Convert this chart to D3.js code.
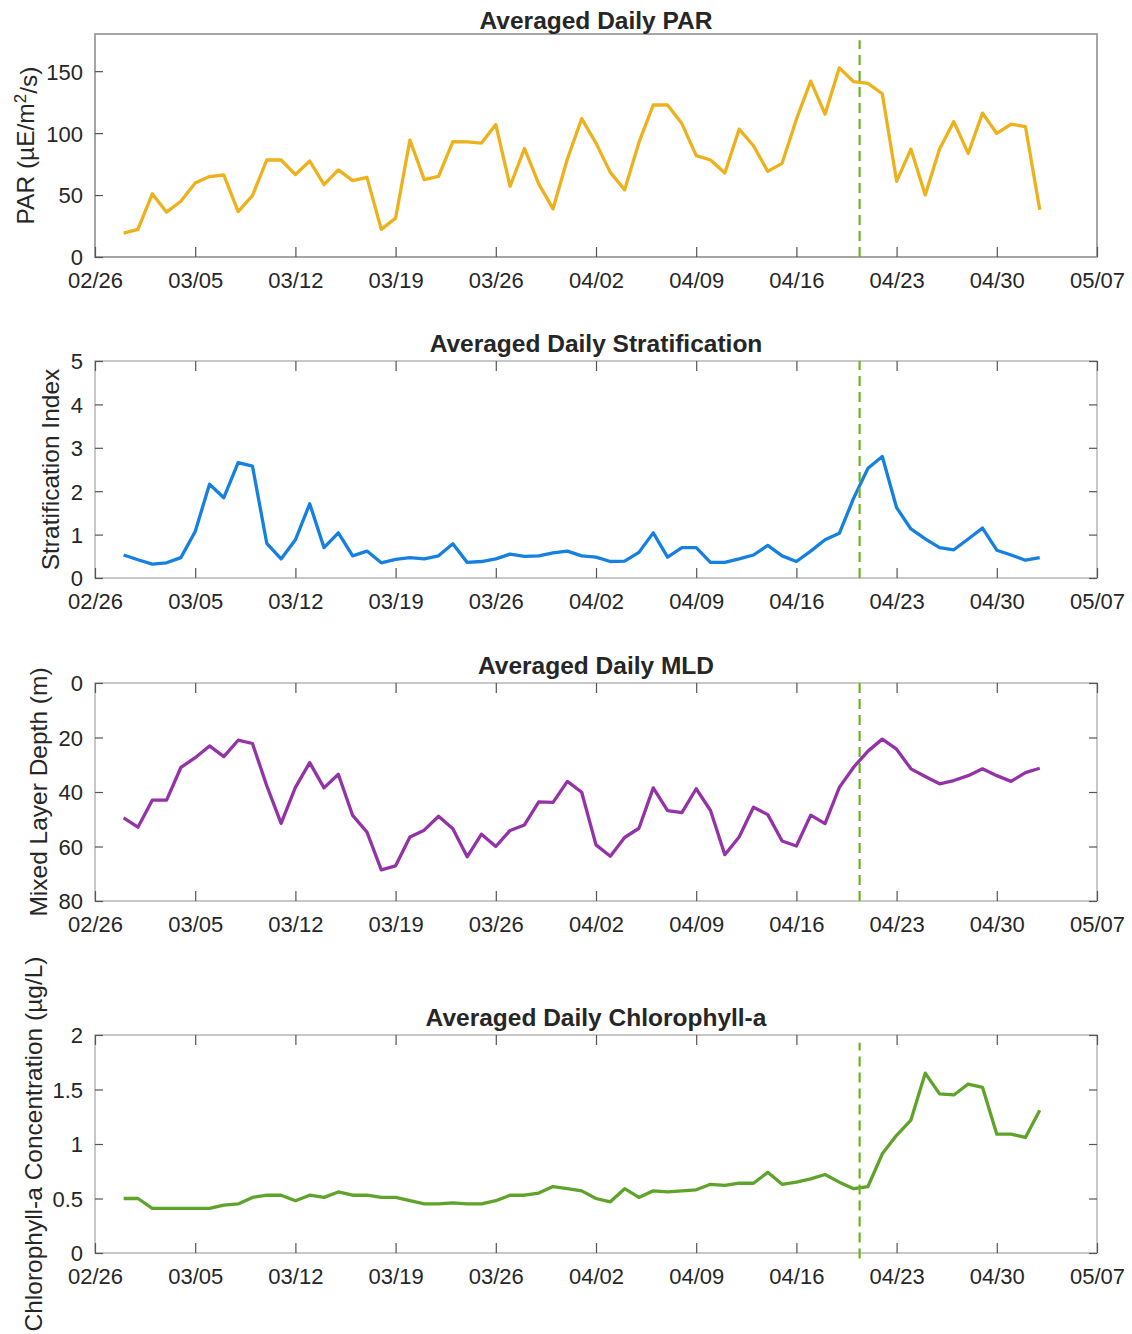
<!DOCTYPE html>
<html>
<head>
<meta charset="utf-8">
<script src="https://cdn.jsdelivr.net/npm/d3@7"></script>
<style>
  html, body { margin: 0; padding: 0; background: #fff; }
  svg { display: block; }
  text { font-family: "Liberation Sans", Arial, Helvetica, sans-serif; fill: #262626; }
</style>
</head>
<body>
<svg id="chart" width="1132" height="1334"></svg>
<script>
// ---------- data ----------
const year = 2021;
const xTickLabels = ["02/26","03/05","03/12","03/19","03/26","04/02","04/09","04/16","04/23","04/30","05/07"];
const firstDataDay = "02/28";
const eventDay = "04/20";
const eventHourOffset = 10; // dashed marker sits slightly after midnight

const parValues = [19.3,22.3,51,36.2,45,59.8,64.9,66.2,36.7,49.6,78.3,78.3,66.5,77.5,58.4,70.3,61.7,64.3,22.3,31.4,
  94.4,62.5,65.1,93.2,92.9,92,106.9,57.1,87.6,59,38.9,79.1,111.7,91.9,68.3,54.2,92.5,122.7,122.7,107.7,
  81.8,78.3,67.8,103.2,89.8,69.1,75.6,111.2,142,115.3,152.7,141.5,140.2,131.8,61.1,87.1,50.1,87.1,109.3,83.6,
  116.1,99.7,107.2,105.3,38.1];
const stratValues = [0.53,0.42,0.32,0.35,0.47,1.07,2.16,1.85,2.66,2.58,0.80,0.44,0.88,1.71,0.70,1.04,0.51,0.62,0.35,0.43,
  0.47,0.44,0.51,0.79,0.36,0.38,0.44,0.55,0.50,0.51,0.58,0.62,0.51,0.48,0.38,0.39,0.59,1.04,0.48,0.70,
  0.70,0.36,0.36,0.44,0.53,0.75,0.51,0.38,0.62,0.88,1.03,1.84,2.53,2.80,1.62,1.13,0.90,0.70,0.65,0.90,
  1.15,0.64,0.53,0.41,0.47];
const mldValues = [49.5,52.9,43.0,43.0,31.0,27.4,23.1,27.0,21.0,22.2,37.7,51.5,38.3,29.2,38.5,33.5,48.6,54.7,68.6,67.1,
  56.5,54.0,48.9,53.5,63.8,55.5,60.0,54.1,52.1,43.6,43.8,36.1,40.1,59.4,63.6,56.7,53.3,38.5,46.8,47.6,
  38.8,46.8,63.0,56.5,45.6,48.3,58.0,59.8,48.5,51.6,38.3,30.9,25.0,20.6,24.3,31.5,34.3,37.0,35.8,34.0,
  31.5,34.0,36.1,32.9,31.3];
const chlValues = [0.50,0.50,0.41,0.41,0.41,0.41,0.41,0.44,0.45,0.51,0.53,0.53,0.48,0.53,0.51,0.56,0.53,0.53,0.51,0.51,
  0.48,0.45,0.45,0.46,0.45,0.45,0.48,0.53,0.53,0.55,0.61,0.59,0.57,0.50,0.47,0.59,0.51,0.57,0.56,0.57,
  0.58,0.63,0.62,0.64,0.64,0.74,0.63,0.65,0.68,0.72,0.65,0.59,0.61,0.91,1.08,1.22,1.65,1.46,1.45,1.55,
  1.52,1.09,1.09,1.06,1.31];

const titles = ["Averaged Daily PAR","Averaged Daily Stratification","Averaged Daily MLD","Averaged Daily Chlorophyll-a"];
const yLabels = ["PAR (µE/m|2|/s)","Stratification Index","Mixed Layer Depth (m)","Chlorophyll-a Concentration (µg/L)"];
const yDomains = [[0,180],[0,5],[80,0],[0,2]];
const yTicks = [[0,50,100,150],[0,1,2,3,4,5],[0,20,40,60,80],[0,0.5,1,1.5,2]];
const eventSpans = [[0,175],[0,5],[0,80],[-0.05,1.93]];
const seriesColors = ["#edb11c","#1580e0","#9432a8","#5fa32a"];
const eventColor = "#6fb02a";

// ---------- layout ----------
const left = 95, right = 1097;
const tickFont = 22, labelFont = 24.5, titleFont = 24.5;
const panels = [
  {top: 34, bottom: 257, mirror: false, titleGap: 5, labelX: 25},
  {top: 361, bottom: 578, mirror: true, titleGap: 9, labelX: 50},
  {top: 683, bottom: 901, mirror: true, titleGap: 9, labelX: 38},
  {top: 1035, bottom: 1253, mirror: true, titleGap: 9, labelX: 33}
];

const parseMD = s => { const [m, d] = s.split("/").map(Number); return new Date(Date.UTC(year, m - 1, d)); };
const tickDates = xTickLabels.map(parseMD);
const start = parseMD(firstDataDay);
const dates = d3.utcDay.range(start, d3.utcDay.offset(start, parValues.length));
const eventDate = d3.utcHour.offset(parseMD(eventDay), eventHourOffset);
const allSeries = [parValues, stratValues, mldValues, chlValues];

const x = d3.scaleUtc().domain([tickDates[0], tickDates[tickDates.length - 1]]).range([left, right]);
const fmt = d3.utcFormat("%m/%d");
const yfmt = d3.format("~g");
const ff = '"Liberation Sans", Arial, Helvetica, sans-serif';

const svg = d3.select("#chart");

panels.forEach((p, i) => {
  const y = d3.scaleLinear().domain(yDomains[i]).range([p.bottom, p.top]);
  const g = svg.append("g");

  // box
  g.append("rect")
    .attr("x", left).attr("y", p.top)
    .attr("width", right - left).attr("height", p.bottom - p.top)
    .attr("fill", "none").attr("stroke", i === 0 ? "#9c9c9c" : "#ababab").attr("stroke-width", i === 0 ? 1.8 : 1.3);

  // bottom axis (ticks inside)
  const xAxis = d3.axisBottom(x).tickValues(tickDates).tickFormat(fmt).tickSizeInner(-10).tickSizeOuter(0).tickPadding(0);
  const gx = g.append("g").attr("transform", `translate(0,${p.bottom})`).call(xAxis);
  gx.select(".domain").remove();
  gx.selectAll(".tick line").attr("stroke", "#555").attr("stroke-width", 1.2);
  gx.selectAll(".tick text").attr("y", 31).attr("dy", 0).attr("font-size", tickFont).attr("fill", "#262626")
    .attr("font-family", ff);

  // left axis
  const yAxis = d3.axisLeft(y).tickValues(yTicks[i]).tickFormat(yfmt).tickSizeInner(-8).tickSizeOuter(0).tickPadding(0);
  const gy = g.append("g").attr("transform", `translate(${left},0)`).call(yAxis);
  gy.select(".domain").remove();
  gy.selectAll(".tick line").attr("stroke", "#555").attr("stroke-width", 1.2);
  gy.selectAll(".tick text").attr("x", -12).attr("dy", "0.36em").attr("font-size", tickFont).attr("fill", "#262626")
    .attr("font-family", ff);

  if (p.mirror) {
    const gxt = g.append("g").attr("transform", `translate(0,${p.top})`)
      .call(d3.axisTop(x).tickValues(tickDates).tickFormat("").tickSizeInner(-10).tickSizeOuter(0));
    gxt.select(".domain").remove();
    gxt.selectAll(".tick line").attr("stroke", "#555").attr("stroke-width", 1.2);
    const gyr = g.append("g").attr("transform", `translate(${right},0)`)
      .call(d3.axisRight(y).tickValues(yTicks[i]).tickFormat("").tickSizeInner(-8).tickSizeOuter(0));
    gyr.select(".domain").remove();
    gyr.selectAll(".tick line").attr("stroke", "#555").attr("stroke-width", 1.2);
  }

  // data line
  const line = d3.line().x((d, k) => x(dates[k])).y(d => y(d));
  g.append("path").datum(allSeries[i])
    .attr("d", line)
    .attr("fill", "none").attr("stroke", seriesColors[i]).attr("stroke-width", 3.3)
    .attr("stroke-linejoin", "round").attr("stroke-linecap", "butt");

  // event dashed line
  g.append("line")
    .attr("x1", x(eventDate)).attr("x2", x(eventDate))
    .attr("y1", y(eventSpans[i][0])).attr("y2", y(eventSpans[i][1]))
    .attr("stroke", eventColor).attr("stroke-width", 2.2).attr("stroke-dasharray", "10,6");

  // title
  g.append("text")
    .attr("x", (left + right) / 2).attr("y", p.top - p.titleGap)
    .attr("text-anchor", "middle").attr("font-size", titleFont).attr("font-weight", "bold").attr("fill", "#111")
    .text(titles[i]);

  // y label (supports |sup| markup)
  const cy = (p.top + p.bottom) / 2;
  const lab = g.append("text")
    .attr("transform", `translate(${p.labelX},${cy}) rotate(-90)`)
    .attr("text-anchor", "middle").attr("dy", "0.36em").attr("font-size", labelFont);
  yLabels[i].split("|").forEach((part, k) => {
    if (k % 2 === 1) {
      lab.append("tspan").attr("dy", "-0.45em").attr("font-size", 17).text(part);
    } else {
      const t = lab.append("tspan").text(part);
      if (k > 0) t.attr("dy", "0.45em");
    }
  });
});
</script>
</body>
</html>
